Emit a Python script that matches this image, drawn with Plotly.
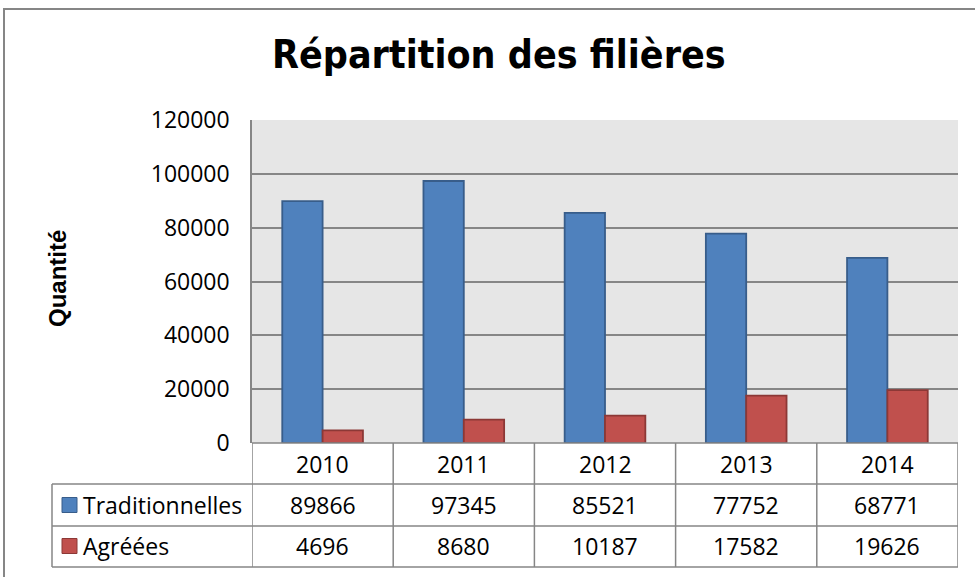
import plotly.graph_objects as go

years = ["2010", "2011", "2012", "2013", "2014"]
traditionnelles = [89866, 97345, 85521, 77752, 68771]
agreees = [4696, 8680, 10187, 17582, 19626]
series_names = ["Traditionnelles", "Agréées"]
y_ticks = [0, 20000, 40000, 60000, 80000, 100000, 120000]

BLUE = "#4F81BD"
BLUE_EDGE = "#385D8A"
RED = "#C0504D"
RED_EDGE = "#8C3836"
GRID = "#868686"
TXT_FONT = "Open Sans, Noto Sans, sans-serif"
TXT_SIZE = 23

W, H = 975, 577
L, R, T, B = 252, 17, 120, 134
PW, PH = W - L - R, H - T - B
BASE = H - B  # pixel y of the zero line


def px_x(px):
    return (px - L) / PW


def px_y(py):
    return (BASE - py) / PH


fig = go.Figure()
fig.add_trace(go.Bar(x=years, y=traditionnelles, name=series_names[0],
                     marker=dict(color=BLUE, line=dict(color=BLUE_EDGE, width=1.8))))
fig.add_trace(go.Bar(x=years, y=agreees, name=series_names[1],
                     marker=dict(color=RED, line=dict(color=RED_EDGE, width=1.8))))

shapes = []
annotations = []

row_top = [443, 484, 526, 567]
left_px = 52
shapes.append(dict(type="line", xref="paper", yref="paper", x0=0, x1=1,
                   y0=px_y(row_top[0]), y1=px_y(row_top[0]), line=dict(color=GRID, width=1.5)))
for yy in row_top[1:]:
    shapes.append(dict(type="line", xref="paper", yref="paper", x0=px_x(left_px), x1=1,
                       y0=px_y(yy), y1=px_y(yy), line=dict(color=GRID, width=1.5)))
for i in range(len(years) + 1):
    shapes.append(dict(type="line", xref="x", yref="paper", x0=i - 0.5, x1=i - 0.5,
                       y0=px_y(row_top[0]), y1=px_y(row_top[-1]), line=dict(color=GRID, width=1.5)))
shapes.append(dict(type="line", xref="paper", yref="paper", x0=px_x(left_px), x1=px_x(left_px),
                   y0=px_y(row_top[1]), y1=px_y(row_top[-1]), line=dict(color=GRID, width=1.5)))

txt = dict(family=TXT_FONT, size=TXT_SIZE, color="#000000")
for i, yr in enumerate(years):
    annotations.append(dict(x=i, y=px_y(464), xref="x", yref="paper", text=yr, showarrow=False,
                            xanchor="center", yanchor="middle", font=txt))
    annotations.append(dict(x=i, y=px_y(505), xref="x", yref="paper", text=str(traditionnelles[i]),
                            showarrow=False, xanchor="center", yanchor="middle", font=txt))
    annotations.append(dict(x=i, y=px_y(546), xref="x", yref="paper", text=str(agreees[i]),
                            showarrow=False, xanchor="center", yanchor="middle", font=txt))

for name, fill, edge, cy in [(series_names[0], BLUE, BLUE_EDGE, 505), (series_names[1], RED, RED_EDGE, 546)]:
    shapes.append(dict(type="rect", xref="paper", yref="paper", x0=px_x(62), x1=px_x(77),
                       y0=px_y(cy - 7.5), y1=px_y(cy + 7.5), fillcolor=fill, line=dict(color=edge, width=1)))
    annotations.append(dict(x=px_x(81), y=px_y(cy), xref="paper", yref="paper", text=name,
                            showarrow=False, xanchor="left", yanchor="middle", font=txt))

shapes.append(dict(type="rect", xref="paper", yref="paper", x0=px_x(4), x1=px_x(1000),
                   y0=px_y(600), y1=px_y(9), line=dict(color=GRID, width=2), layer="below"))

annotations.append(dict(x=px_x(499), y=px_y(55), xref="paper", yref="paper",
                        text="<b>Répartition des filières</b>", showarrow=False,
                        xanchor="center", yanchor="middle",
                        font=dict(family="DejaVu Sans Condensed, Roboto Condensed, Liberation Sans Narrow, Roboto, sans-serif",
                                  size=39, color="#000000")))
annotations.append(dict(x=px_x(57), y=px_y(279), xref="paper", yref="paper",
                        text="<b>Quantité</b>", showarrow=False, textangle=-90,
                        xanchor="center", yanchor="middle",
                        font=dict(family="Liberation Sans, Arial, sans-serif", size=24, color="#000000")))

fig.update_layout(
    width=W, height=H,
    margin=dict(l=L, r=R, t=T, b=B, pad=0),
    paper_bgcolor="white",
    plot_bgcolor="#E6E6E6",
    barmode="group",
    bargap=1.5 / 3.5,
    bargroupgap=0,
    showlegend=False,
    shapes=shapes,
    annotations=annotations,
    xaxis=dict(type="category", showticklabels=False, showgrid=False, zeroline=False, range=[-0.5, 4.5],
               showline=False, fixedrange=True),
    yaxis=dict(range=[0, 120000], tickvals=y_ticks, ticktext=[str(v) for v in y_ticks],
               showgrid=True, gridcolor=GRID, gridwidth=1.5,
               zeroline=False, showline=True, linecolor=GRID, linewidth=1.5, mirror=False,
               ticks="", ticklabelstandoff=16,
               tickfont=dict(family=TXT_FONT, size=TXT_SIZE, color="#000000"), fixedrange=True),
)

fig.write_html("out.html", config={"displayModeBar": False},
               post_script="document.body.style.margin='0';")
